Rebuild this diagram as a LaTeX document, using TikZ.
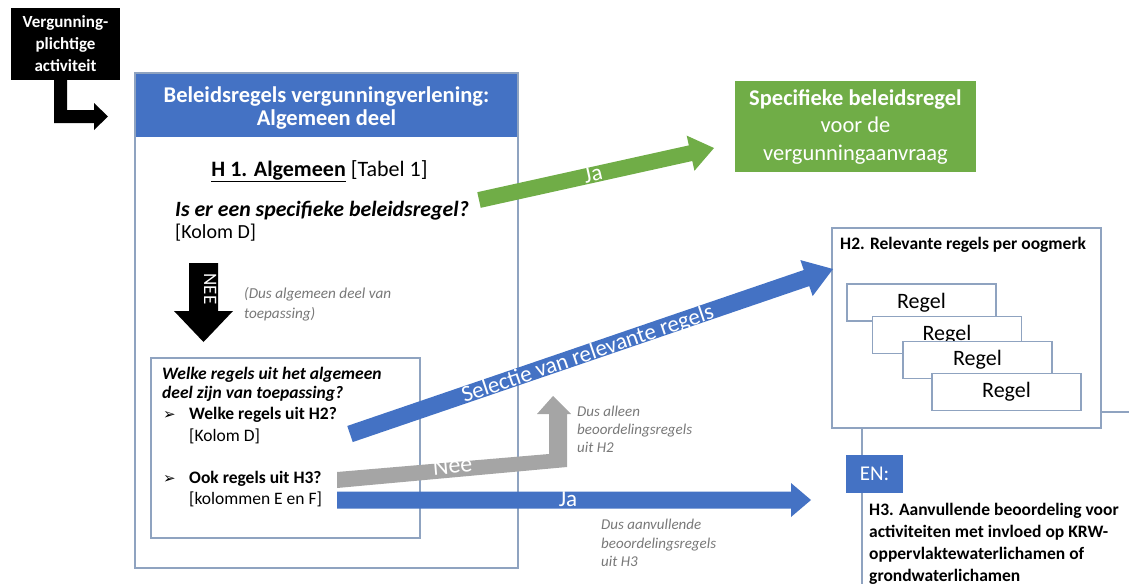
\documentclass[tikz,border=0pt]{standalone}
\usepackage{fontspec}
\setmainfont{Carlito}
\newfontfamily\dejavu{DejaVu Sans}
\usetikzlibrary{calc}
\definecolor{hblue}{RGB}{68,114,196}
\definecolor{hgreen}{RGB}{112,173,71}
\definecolor{lframe}{RGB}{143,163,192}
\definecolor{agray}{RGB}{165,165,165}
\definecolor{tgray}{RGB}{120,120,120}
\newcommand{\fs}[2]{\fontsize{#1}{#2}\selectfont}
% block arrow: #1 style, #2 start coord, #3 tip coord, #4 shaft half width, #5 head half width, #6 head length
\newcommand{\blockarrow}[6]{%
  \coordinate (#2-hb) at ($(#3)!#6!(#2)$);
  \fill[#1] ($(#2)!#4!90:(#3)$) -- ($(#2-hb)!#4!90:(#3)$) -- ($(#2-hb)!#5!90:(#3)$)
    -- (#3) -- ($(#2-hb)!#5!-90:(#3)$) -- ($(#2-hb)!#4!-90:(#3)$) -- ($(#2)!#4!-90:(#3)$) -- cycle;}
\begin{document}
\begin{tikzpicture}[x=1pt,y=-1pt,
  frame/.style={draw=lframe, line width=1.1pt, fill=white, outer sep=0pt},
  lline/.style={draw=lframe, line width=1.1pt},
  box/.style={inner sep=0pt, outer sep=0pt, anchor=north west},
  t/.style={inner sep=0pt, text height=0.68em, text depth=0.18em, yshift=-3pt},
  tl/.style={t, anchor=west},
  wt/.style={t, text=white},
  note/.style={tl, text=tgray, font=\itshape\fs{15}{18}},
  regel/.style={frame, minimum width=149pt, minimum height=37pt, inner sep=0pt}]
\useasboundingbox (0,0) rectangle (1129,584);

% ---- black start box and bent arrow
\node[box, fill=black, minimum width=109pt, minimum height=72pt] (act) at (11,8) {};
\node[wt, font=\bfseries\fs{17}{20}] (act1) at (65.5,22) {Vergunning-};
\node[wt, font=\bfseries\fs{17}{20}] (act2) at (65.5,44) {plichtige};
\node[wt, font=\bfseries\fs{17}{20}] (act3) at (65.5,66) {activiteit};
\fill[black] (54,80) -- (54,123) -- (94,123) -- (94,130) -- (108,116.5) -- (94,103) -- (94,110) -- (67,110) -- (67,80) -- cycle;

% ---- main box
\node[frame, box, minimum width=383pt, minimum height=495pt] (main) at (135,73) {};
\node[box, fill=hblue, minimum width=383pt, minimum height=64pt] (head) at (135,73) {};
\draw[lline] (main.north west) rectangle (main.south east);
\node[wt, font=\bfseries\fs{22.5}{24}] (head1) at (326.5,97) {Beleidsregels vergunningverlening:};
\node[wt, font=\bfseries\fs{22.5}{24}] (head2) at (326.5,120) {Algemeen deel};
\node[t, font=\fs{22}{24}] (h1) at (319.5,171) {\textbf{\underline{H 1. Algemeen}} [Tabel 1]};
\node[tl, font=\bfseries\itshape\fs{21.8}{24}] (q1) at (175,211) {Is er een specifieke beleidsregel?};
\node[tl, font=\fs{20}{24}] (q1k) at (175,233) {[Kolom D]};

% ---- NEE arrow
\fill[black] (189,263) -- (218,263) -- (218,311) -- (233,311) -- (203.5,342) -- (174,311) -- (189,311) -- cycle;
\node[wt, font=\fs{19}{20}, rotate=-90, yshift=3pt, xshift=-3pt] (nee) at (203.5,289) {NEE};
\node[note, font=\itshape\fs{15.2}{18}] (dusalg1) at (244,293) {(Dus algemeen deel van};
\node[note, font=\itshape\fs{15.2}{18}] (dusalg2) at (244,313) {toepassing)};

% ---- inner box
\node[frame, box, minimum width=269pt, minimum height=180pt] (inner) at (151,358) {};
\node[tl, font=\bfseries\itshape\fs{17.5}{20}] (w1) at (162,374) {Welke regels uit het algemeen};
\node[tl, font=\bfseries\itshape\fs{17.5}{20}] (w2) at (162,393) {deel zijn van toepassing?};
\node[tl, font=\dejavu\fs{15}{16}] (b1) at (163,414) {➢};
\node[tl, font=\bfseries\fs{17.5}{20}] (w3) at (189,414) {Welke regels uit H2?};
\node[tl, font=\fs{17.5}{20}] (w4) at (189,436) {[Kolom D]};
\node[tl, font=\dejavu\fs{15}{16}] (b2) at (163,478) {➢};
\node[tl, font=\bfseries\fs{17.5}{20}] (w5) at (189,478) {Ook regels uit H3?};
\node[tl, font=\fs{17.5}{20}] (w6) at (189,499) {[kolommen E en F]};

% ---- green box
\node[box, fill=hgreen, minimum width=241pt, minimum height=91pt] (spec) at (735,81) {};
\node[wt, font=\bfseries\fs{22.5}{24}] (spec1) at (855.5,100) {Specifieke beleidsregel};
\node[wt, font=\fs{22.5}{24}] (spec2) at (855.5,127) {voor de};
\node[wt, font=\fs{22.5}{24}] (spec3) at (855.5,155) {vergunningaanvraag};

% ---- H2 box
\node[frame, box, minimum width=269pt, minimum height=200pt] (h2) at (832,228) {};
\node[tl, font=\bfseries\fs{17.5}{20}] (h2t) at (840,244) {H2. Relevante regels per oogmerk};
\node[regel] (r1) at (921.5,302.5) {};
\node[t, font=\fs{22}{24}] (r1t) at (921.5,302.5) {Regel};
\node[regel] (r2) at (947,335) {};
\node[t, font=\fs{22}{24}] (r2t) at (947,335) {Regel};
\node[regel] (r3) at (977.5,360) {};
\node[t, font=\fs{22}{24}] (r3t) at (977.5,360) {Regel};
\node[regel] (r4) at (1006.5,392) {};
\node[t, font=\fs{22}{24}] (r4t) at (1006.5,392) {Regel};
\coordinate (rend) at (1129,412);
\draw[lline] (h2.east |- rend) -- (rend);
\coordinate (vend) at (862,584);
\draw[lline] (h2.south -| vend) -- (vend);

% ---- EN and H3
\node[fill=hblue, minimum width=57pt, minimum height=38pt, inner sep=0pt, outer sep=0pt] (en) at (874.5,474) {};
\node[wt, font=\fs{21}{24}] (ent) at (874.5,475) {EN:};
\node[tl, font=\bfseries\fs{17.5}{20}] (h3a) at (869,510) {H3. Aanvullende beoordeling voor};
\node[tl, font=\bfseries\fs{17.5}{20}] (h3b) at (869,532) {activiteiten met invloed op KRW-};
\node[tl, font=\bfseries\fs{17.5}{20}] (h3c) at (869,554) {oppervlaktewaterlichamen of};
\node[tl, font=\bfseries\fs{17.5}{20}] (h3d) at (869,576) {grondwaterlichamen};

% ---- arrows
\coordinate (gA) at (479,200);
\coordinate (gB) at (714,148);
\blockarrow{hgreen}{gA}{gB}{8pt}{18pt}{24pt}
\node[wt, font=\fs{23}{24}, rotate=12.6] (gja) at (594,176) {Ja};

\coordinate (sA) at (350,434);
\coordinate (sB) at (833,269);
\blockarrow{hblue}{sA}{sB}{8.5pt}{19pt}{28pt}
\node[wt, font=\fs{23}{24}, rotate=18.75] (sel) at (589,355) {Selectie van relevante regels};

\fill[agray] (337,472) -- (549,454) -- (549,414) -- (537,414) -- (553,396) -- (571,414) -- (567,414) -- (567,467) -- (337,488) -- cycle;
\node[wt, font=\fs{24}{26}, rotate=4.9] (nlbl) at (453,468) {Nee};

\coordinate (jA) at (337,500);
\coordinate (jB) at (811,500);
\blockarrow{hblue}{jA}{jB}{8.5pt}{17pt}{20pt}
\node[wt, font=\fs{23}{24}] (jlbl) at (568,501) {Ja};

\node[note] (n1) at (577,411) {Dus alleen};
\node[note] (n2) at (577,429) {beoordelingsregels};
\node[note] (n3) at (577,447) {uit H2};
\node[note] (n4) at (601,524) {Dus aanvullende};
\node[note] (n5) at (601,543) {beoordelingsregels};
\node[note] (n6) at (601,561) {uit H3};
\end{tikzpicture}
\end{document}
